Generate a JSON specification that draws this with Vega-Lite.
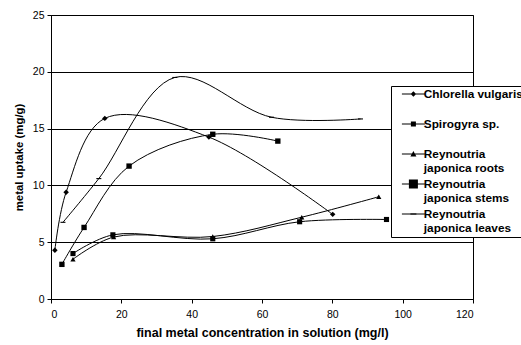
{
  "$schema": "https://vega.github.io/schema/vega-lite/v6.json",
  "width": 422,
  "height": 284,
  "autosize": {"type": "none"},
  "padding": {"left": 51, "top": 15, "right": 48, "bottom": 46},
  "background": "white",
  "config": {
    "view": {"stroke": "#000", "strokeWidth": 1},
    "font": "Liberation Sans",
    "axis": {
      "labelFont": "Liberation Sans",
      "labelFontSize": 10.5,
      "labelColor": "#000",
      "titleFont": "Liberation Sans",
      "titleFontWeight": "bold",
      "titleColor": "#000",
      "domainColor": "#000",
      "tickColor": "#000",
      "tickSize": 4,
      "gridColor": "#000",
      "gridOpacity": 1
    }
  },
  "data": {
    "values": [
      {"series": "Chlorella vulgaris", "x": 1.1, "y": 4.3},
      {"series": "Chlorella vulgaris", "x": 4.3, "y": 9.4},
      {"series": "Chlorella vulgaris", "x": 15.3, "y": 15.9},
      {"series": "Chlorella vulgaris", "x": 44.9, "y": 14.25},
      {"series": "Chlorella vulgaris", "x": 80.1, "y": 7.45},
      {"series": "Spirogyra sp.", "x": 3.1, "y": 3.05},
      {"series": "Spirogyra sp.", "x": 9.4, "y": 6.3},
      {"series": "Spirogyra sp.", "x": 22.2, "y": 11.7},
      {"series": "Spirogyra sp.", "x": 46.0, "y": 14.5},
      {"series": "Spirogyra sp.", "x": 64.5, "y": 13.9},
      {"series": "Reynoutria japonica roots", "x": 6.25, "y": 3.5},
      {"series": "Reynoutria japonica roots", "x": 17.8, "y": 5.45},
      {"series": "Reynoutria japonica roots", "x": 46.0, "y": 5.5},
      {"series": "Reynoutria japonica roots", "x": 71.3, "y": 7.2},
      {"series": "Reynoutria japonica roots", "x": 93.2, "y": 9.0},
      {"series": "Reynoutria japonica stems", "x": 6.25, "y": 4.0},
      {"series": "Reynoutria japonica stems", "x": 17.6, "y": 5.65},
      {"series": "Reynoutria japonica stems", "x": 46.0, "y": 5.3},
      {"series": "Reynoutria japonica stems", "x": 70.7, "y": 6.8},
      {"series": "Reynoutria japonica stems", "x": 95.4, "y": 7.0},
      {"series": "Reynoutria japonica leaves", "x": 3.4, "y": 6.75},
      {"series": "Reynoutria japonica leaves", "x": 13.6, "y": 10.6},
      {"series": "Reynoutria japonica leaves", "x": 35.2, "y": 19.5},
      {"series": "Reynoutria japonica leaves", "x": 62.7, "y": 16.0},
      {"series": "Reynoutria japonica leaves", "x": 88.0, "y": 15.85}
    ]
  },
  "encoding": {
    "x": {
      "field": "x", "type": "quantitative",
      "scale": {"domain": [0, 120], "nice": false},
      "axis": {"values": [0, 20, 40, 60, 80, 100, 120], "grid": false, "title": "final metal concentration in solution (mg/l)", "titleFontSize": 12.5, "titlePadding": 7, "labelPadding": 6}
    },
    "y": {
      "field": "y", "type": "quantitative",
      "scale": {"domain": [0, 25], "nice": false},
      "axis": {"values": [0, 5, 10, 15, 20, 25], "grid": true, "title": "metal uptake (mg/g)", "titleFontSize": 11.4, "titlePadding": 8, "labelPadding": 3}
    }
  },
  "layer": [
    {
      "mark": {"type": "line", "interpolate": "catmull-rom", "color": "#000", "strokeWidth": 1},
      "encoding": {"detail": {"field": "series"}}
    },
    {
      "mark": {"type": "point", "filled": true, "color": "#000", "opacity": 1},
      "encoding": {
        "shape": {
          "field": "series", "type": "nominal",
          "scale": {
            "domain": ["Chlorella vulgaris", "Spirogyra sp.", "Reynoutria japonica roots", "Reynoutria japonica stems", "Reynoutria japonica leaves"],
            "range": ["diamond", "square", "triangle-up", "square", "M-1,-0.22H1V0.22H-1Z"]
          },
          "legend": null
        },
        "size": {
          "field": "series", "type": "nominal",
          "scale": {
            "domain": ["Chlorella vulgaris", "Spirogyra sp.", "Reynoutria japonica roots", "Reynoutria japonica stems", "Reynoutria japonica leaves"],
            "range": [30, 25, 40, 85, 40]
          },
          "legend": null
        }
      }
    },
    {
      "mark": {"type": "point", "filled": true, "color": "#000", "opacity": 0, "size": 100},
      "encoding": {
        "shape": {
          "field": "series", "type": "nominal",
          "scale": {
            "domain": ["Chlorella vulgaris", "Spirogyra sp.", "Reynoutria japonica roots", "Reynoutria japonica stems", "Reynoutria japonica leaves"],
            "range": [
              "M0.6,-0.1H5.2V0.1H0.6Z M2.9,-0.55L3.45,0L2.9,0.55L2.35,0Z",
              "M0.6,-0.1H5.2V0.1H0.6Z M2.4,-0.5H3.4V0.5H2.4Z",
              "M0.6,-0.1H5.2V0.1H0.6Z M2.9,-0.6L3.5,0.5H2.3Z",
              "M0.6,-0.1H5.2V0.1H0.6Z M2,-0.9H3.8V0.9H2Z",
              "M0.6,-0.1H5.2V0.1H0.6Z M2.3,-0.15H3.5V0.15H2.3Z"
            ]
          },
          "legend": {
            "title": null,
            "orient": "none",
            "legendX": 340,
            "legendY": 71,
            "strokeColor": "#000",
            "fillColor": "#fff",
            "padding": 2,
            "symbolSize": 100,
            "symbolOpacity": 1,
            "symbolFillColor": "#000",
            "symbolStrokeWidth": 0,
            "labelFont": "Liberation Sans",
            "labelFontSize": 11.8,
            "labelFontWeight": "bold",
            "labelColor": "#000",
            "labelOffset": 19,
            "labelLimit": 300,
            "labelLineHeight": 13.5,
            "gridAlign": "all",
            "rowPadding": 3,
            "labelExpr": "indexof(datum.label, 'Reynoutria') == 0 ? ['Reynoutria', substring(datum.label, 11)] : datum.label",
            "encode": {
              "symbols": {
                "update": {
                  "fill": {"value": "#000"},
                  "opacity": {"value": 1},
                  "fillOpacity": {"value": 1},
                  "strokeWidth": {"value": 0}
                }
              }
            }
          }
        }
      }
    }
  ],
  "resolve": {"scale": {"shape": "independent"}}
}
